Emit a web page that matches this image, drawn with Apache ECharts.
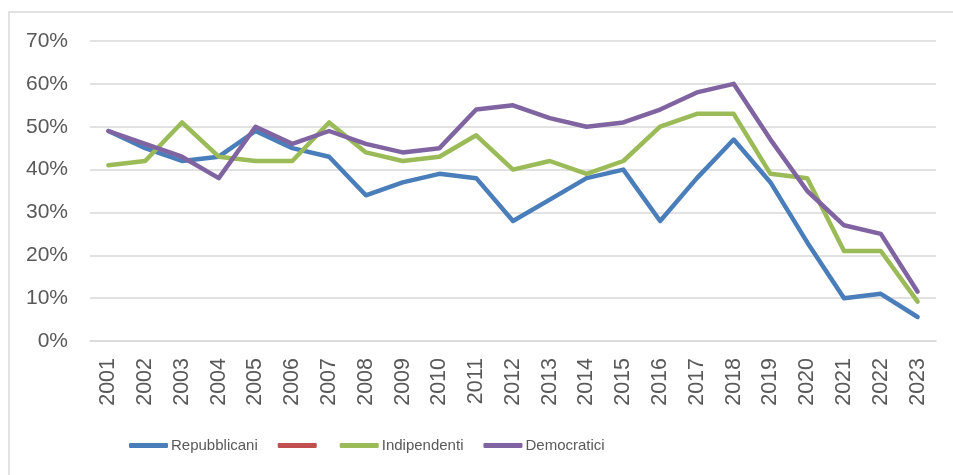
<!DOCTYPE html>
<html>
<head>
<meta charset="utf-8">
<script src="https://cdn.jsdelivr.net/npm/echarts@6/dist/echarts.min.js"></script>
<style>
  html, body { margin: 0; padding: 0; background: #fff; }
  #main { width: 953px; height: 475px; }
</style>
</head>
<body>
<div id="main"></div>
<script>
var years = ['2001', '2002', '2003', '2004', '2005', '2006', '2007', '2008', '2009', '2010', '2011', '2012',
  '2013', '2014', '2015', '2016', '2017', '2018', '2019', '2020', '2021', '2022', '2023']
var repubblicani = [49, 45, 42, 43, 49, 45, 43, 34, 37, 39, 38, 28, 33, 38, 40, 28, 38, 47, 37, 23, 10, 11, 5.6]
// serie vuota (rossa) presente solo in legenda
var senzaNome = [null, null, null, null, null, null, null, null, null, null, null, null,
  null, null, null, null, null, null, null, null, null, null, null]
var indipendenti = [41, 42, 51, 43, 42, 42, 51, 44, 42, 43, 48, 40, 42, 39, 42, 50, 53, 53, 39, 38, 21, 21, 9.2]
var democratici = [49, 46, 43, 38, 50, 46, 49, 46, 44, 45, 54, 55, 52, 50, 51, 54, 58, 60, 47, 35, 27, 25, 11.5]
var yTicks = [0, 10, 20, 30, 40, 50, 60, 70]
var nomeVuoto = '\u200b'

var myChart = echarts.init(document.getElementById('main'))

function lineSeries (name, data, color) {
  return {
    name: name,
    type: 'line',
    data: data,
    showSymbol: false,
    symbol: 'none',
    color: color,
    lineStyle: { width: 4.5, color: color, cap: 'round', join: 'round' },
    emphasis: { disabled: true }
  }
}

var option = {
  animation: false,
  textStyle: { fontFamily: "'Liberation Sans', Arial, sans-serif" },
  graphic: [{
    type: 'rect',
    shape: { x: 9, y: 12, width: 960, height: 480 },
    style: { fill: 'none', stroke: '#d9d9d9', lineWidth: 1.5 },
    silent: true
  }],
  grid: { left: 90, right: 17, top: 41, bottom: 134 },
  legend: {
    left: 124,
    top: 433,
    itemWidth: 39,
    itemHeight: 5,
    itemGap: 20,
    icon: 'roundRect',
    textStyle: {
      color: '#595959',
      fontSize: 15,
      padding: [0, 0, 0, -2]
    },
    data: ['Repubblicani', nomeVuoto, 'Indipendenti', 'Democratici']
  },
  xAxis: {
    type: 'category',
    data: years,
    axisLine: { lineStyle: { color: '#d9d9d9', width: 1.5 } },
    axisTick: { show: false },
    axisLabel: {
      rotate: 90,
      interval: 0,
      margin: 17,
      color: '#595959',
      fontSize: 21.5
    }
  },
  yAxis: {
    type: 'value',
    min: yTicks[0],
    max: yTicks[yTicks.length - 1],
    interval: 10,
    axisLine: { show: false },
    axisTick: { show: false },
    splitLine: { lineStyle: { color: '#d9d9d9', width: 1.5 } },
    axisLabel: {
      margin: 22,
      color: '#595959',
      fontSize: 21,
      formatter: '{value}%'
    }
  },
  series: [
    lineSeries('Repubblicani', repubblicani, '#4a7ebb'),
    lineSeries(nomeVuoto, senzaNome, '#c0504d'),
    lineSeries('Indipendenti', indipendenti, '#9bbb59'),
    lineSeries('Democratici', democratici, '#8064a2')
  ]
}

myChart.setOption(option)
</script>
</body>
</html>
